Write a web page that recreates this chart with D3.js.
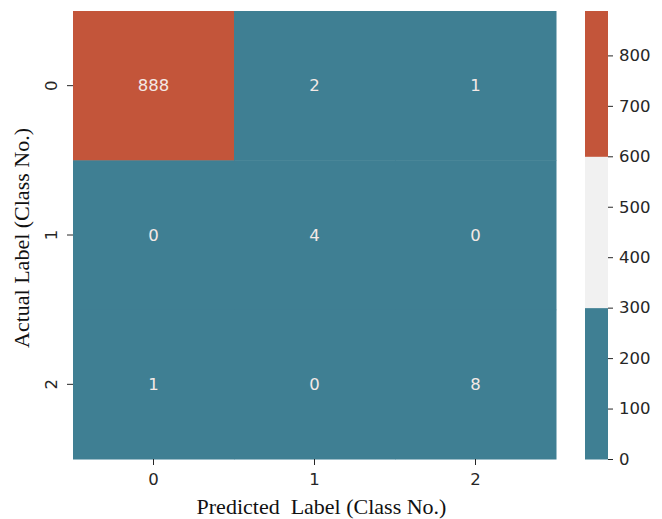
<!DOCTYPE html>
<html lang="en">
<head>
    <meta charset="UTF-8">
    <title>Confusion Matrix</title>
    <script src="https://cdnjs.cloudflare.com/ajax/libs/d3/7.8.5/d3.min.js"></script>
    <style>
        body {
            margin: 0;
            background: #fff;
        }
        .tick text {
            font-family: "DejaVu Sans", sans-serif;
            font-size: 16.5px;
            fill: #262626;
        }
        .tick line {
            stroke: #262626;
        }
        .axis-title {
            font-family: "Liberation Serif", "Times New Roman", serif;
            font-size: 22px;
            fill: #111;
            white-space: pre;
        }
        .cell-label {
            font-family: "DejaVu Sans", sans-serif;
            font-size: 16.5px;
            fill: #f4e9e6;
        }
    </style>
</head>
<body>
    <svg id="svg" width="662" height="519"></svg>

    <script>
        const classes = ["0", "1", "2"];
        // rows = actual, columns = predicted
        const matrix = [
            [888, 2, 1],
            [0, 4, 0],
            [1, 0, 8]
        ];
        const colorBounds = [0, 300, 600, 888];
        const palette = ["#3f7f93", "#f1f1f1", "#c3553a"];
        const colorTicks = [0, 100, 200, 300, 400, 500, 600, 700, 800];

        const svg = d3.select("#svg");
        const heat = { left: 73, top: 11, width: 483, height: 448 };
        const bar = { left: 585, width: 23 };

        const x = d3.scaleBand().domain(classes).range([heat.left, heat.left + heat.width]);
        const y = d3.scaleBand().domain(classes).range([heat.top, heat.top + heat.height]);
        const color = d3.scaleThreshold().domain([300, 600]).range(palette);

        const cells = [];
        matrix.forEach((row, i) => row.forEach((v, j) => {
            cells.push({ actual: classes[i], predicted: classes[j], value: v });
        }));

        svg.selectAll("rect.cell")
            .data(cells)
            .enter()
            .append("rect")
            .attr("class", "cell")
            .attr("x", d => x(d.predicted))
            .attr("y", d => y(d.actual))
            .attr("width", x.bandwidth() + 0.5)
            .attr("height", y.bandwidth() + 0.5)
            .attr("fill", d => color(d.value));

        svg.selectAll("text.cell-label")
            .data(cells)
            .enter()
            .append("text")
            .attr("class", "cell-label")
            .attr("x", d => x(d.predicted) + x.bandwidth() / 2)
            .attr("y", d => y(d.actual) + y.bandwidth() / 2)
            .attr("text-anchor", "middle")
            .attr("dominant-baseline", "central")
            .text(d => d.value);

        // x axis
        const xAxis = svg.append("g")
            .attr("transform", `translate(0,${heat.top + heat.height})`)
            .call(d3.axisBottom(x).tickSize(6).tickPadding(8));
        xAxis.select(".domain").remove();

        // y axis, labels rotated like matplotlib
        const yAxis = svg.append("g")
            .attr("transform", `translate(${heat.left},0)`)
            .call(d3.axisLeft(y).tickSize(6).tickPadding(0));
        yAxis.select(".domain").remove();
        yAxis.selectAll(".tick text")
            .attr("x", -22)
            .attr("dy", 0)
            .attr("text-anchor", "middle")
            .attr("dominant-baseline", "central")
            .attr("transform", "rotate(-90,-22,0)");

        svg.append("text")
            .attr("class", "axis-title")
            .attr("x", heat.left + heat.width / 2 + 7)
            .attr("y", 514)
            .attr("text-anchor", "middle")
            .text("Predicted  Label (Class No.)");

        svg.append("text")
            .attr("class", "axis-title")
            .attr("transform", `translate(29,${heat.top + heat.height / 2 + 3}) rotate(-90)`)
            .attr("text-anchor", "middle")
            .text("Actual Label (Class No.)");

        // colorbar
        const cb = d3.scaleLinear().domain([0, 888]).range([heat.top + heat.height, heat.top]);
        const bands = d3.pairs(colorBounds);
        svg.selectAll("rect.cb")
            .data(bands)
            .enter()
            .append("rect")
            .attr("class", "cb")
            .attr("x", bar.left)
            .attr("y", d => cb(d[1]))
            .attr("width", bar.width)
            .attr("height", d => cb(d[0]) - cb(d[1]) + 0.5)
            .attr("fill", (d, i) => palette[i]);

        const cbAxis = svg.append("g")
            .attr("transform", `translate(${bar.left + bar.width},0)`)
            .call(d3.axisRight(cb).tickValues(colorTicks).tickSize(5).tickPadding(6));
        cbAxis.select(".domain").remove();
    </script>
</body>
</html>
